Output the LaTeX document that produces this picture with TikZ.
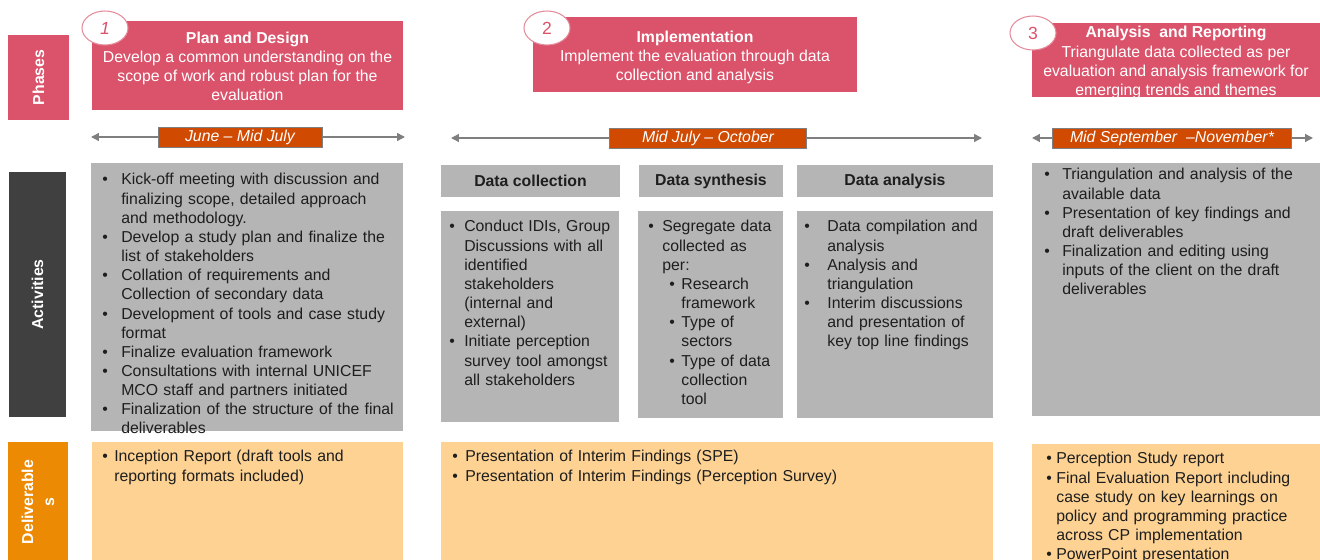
\documentclass[tikz,border=0pt]{standalone}
\usepackage{fontspec}
\setmainfont{Liberation Sans}
\usetikzlibrary{fit,shapes.geometric,arrows.meta}

\definecolor{phasered}{HTML}{DB536B}
\definecolor{ringred}{HTML}{E58C9C}
\definecolor{actdark}{HTML}{404040}
\definecolor{delorange}{HTML}{EC8A03}
\definecolor{dateorange}{HTML}{D04A02}
\definecolor{boxgray}{HTML}{B5B5B5}
\definecolor{delfill}{HTML}{FDD293}
\definecolor{linegray}{HTML}{7F7F7F}
\definecolor{inkgray}{HTML}{1E1E1E}

% bullet lines with a hanging indent
\newlength{\bhang}
\newcommand{\firstbul}{\leftskip=0pt\hangindent=\bhang\hangafter=1\noindent\makebox[\bhang][l]{\textbullet}\ignorespaces}
\newcommand{\bul}{\par\firstbul}
\newcommand{\subbul}[2]{\par\leftskip=#1\hangindent=#2\hangafter=1\noindent\makebox[#2][l]{\textbullet}\ignorespaces}

\begin{document}
\begin{tikzpicture}[
  x=0.02cm, y=-0.02cm,
  every node/.style={font=\fontsize{9}{10.9}\selectfont},
  rowbox/.style={fill=#1, inner sep=0pt},
  rowtext/.style={rotate=90, text=white, align=center, font=\fontsize{9}{12}\selectfont\bfseries},
  phase/.style={fill=phasered, inner sep=0pt},
  phasetext/.style={text=white, align=center, inner sep=0pt},
  ring/.style={ellipse, draw=ringred, line width=0.6pt, fill=white, inner sep=0pt,
    minimum width=0.92cm, minimum height=0.68cm, text=phasered, font=\fontsize{10}{12}\selectfont},
  datebox/.style={fill=dateorange, draw=linegray, line width=0.4pt, inner sep=0pt, text=white,
    minimum height=0.4cm, font=\fontsize{9}{10.9}\selectfont\itshape},
  tline/.style={draw=linegray, line width=0.8pt, -{Triangle[length=4.5pt,width=4.5pt]}},
  graybox/.style={fill=boxgray, inner sep=0pt},
  headtext/.style={inner sep=0pt, text=inkgray, font=\fontsize{9}{10.9}\selectfont\bfseries},
  delbox/.style={fill=delfill, inner sep=0pt},
  bullets/.style={anchor=base west, inner sep=0pt, align=left, text=inkgray, text width=#1}
]
\useasboundingbox (0,0) rectangle (1320,560);

% row labels
\node[rowbox=phasered, fit={(8,35) (69,120)}] (phasesbox) {};
\node[rowtext] (phaseslbl) at (phasesbox.center) {Phases};
\node[rowbox=actdark, fit={(9,172) (66,417)}] (actbox) {};
\node[rowtext] (actlbl) at (actbox.center) {Activities};
\node[rowbox=delorange, fit={(8,442) (68,570)}] (delbox) {};
\node[rowtext] (dellbl) at (38,502) {Deliverable\\s};

% phases
\node[phase, fit={(92,21) (403,110)}] (plan) {};
\node[phasetext] (plantxt) at ([yshift=-0.5pt]plan.center) {\textbf{Plan and Design}\\Develop a common understanding on the\\scope of work and robust plan for the\\evaluation};
\node[ring, font=\fontsize{10}{12}\selectfont\itshape] (num1) at (105,28) {1};
\node[phase, fit={(533,17) (857,92)}] (impl) {};
\node[phasetext] (impltxt) at ([yshift=-1.5pt]impl.center) {\textbf{Implementation}\\Implement the evaluation through data\\collection and analysis};
\node[ring] (num2) at (547,28) {2};
\node[phase, fit={(1032,23) (1320,97)}] (report) {};
\node[phasetext] (reporttxt) at ([yshift=-1.5pt]report.center) {\textbf{Analysis~ and Reporting}\\Triangulate data collected as per\\evaluation and analysis framework for\\emerging trends and themes};
\node[ring] (num3) at (1033,33) {3};

% time spans
\coordinate (t1a) at (91,137);
\coordinate (t1b) at (405,137);
\node[datebox, minimum width=3.28cm] (when1) at (240,137) {June -- Mid July};
\draw[tline] (when1) -- (t1a);
\draw[tline] (when1) -- (t1b);
\coordinate (t2a) at (451,138);
\coordinate (t2b) at (982,138);
\node[datebox, minimum width=3.94cm] (when2) at (708,138) {Mid July -- October};
\draw[tline] (when2) -- (t2a);
\draw[tline] (when2) -- (t2b);
\coordinate (t3a) at (1032,138);
\coordinate (t3b) at (1313,138);
\node[datebox, minimum width=4.78cm] (when3) at (1172,138) {Mid September~ --November*};
\draw[tline] (when3) -- (t3a);
\draw[tline] (when3) -- (t3b);

% activities
\node[graybox, fit={(91,163) (403,431)}] (plantasks) {};
\node[bullets=6cm] (plantasktxt) at (102,185) {\setlength{\bhang}{10.8pt}%
  \firstbul Kick-off meeting with discussion and\newline finalizing scope, detailed approach\newline and methodology.
  \bul Develop a study plan and finalize the\newline list of stakeholders
  \bul Collation of requirements and\newline Collection of secondary data
  \bul Development of tools and case study\newline format
  \bul Finalize evaluation framework
  \bul Consultations with internal UNICEF\newline MCO staff and partners initiated
  \bul Finalization of the structure of the final\newline deliverables\par};

\node[graybox, fit={(441,165) (620,197)}] (collhead) {};
\node[headtext] (colllbl) at (collhead.center) {Data collection};
\node[graybox, fit={(639,165) (783,197)}] (synhead) {};
\node[headtext] (synlbl) at (synhead.center) {Data synthesis};
\node[graybox, fit={(797,165) (993,197)}] (anahead) {};
\node[headtext] (analbl) at (anahead.center) {Data analysis};
\node[graybox, fit={(441,211) (619,422)}] (colltasks) {};
\node[graybox, fit={(638,211) (783,418)}] (syntasks) {};
\node[graybox, fit={(797,211) (993,418)}] (anatasks) {};
\node[bullets=3.4cm] (colltxt) at (449,232) {\setlength{\bhang}{8.5pt}%
  \firstbul Conduct IDIs, Group\newline Discussions with all\newline identified\newline stakeholders\newline (internal and\newline external)
  \bul Initiate perception\newline survey tool amongst\newline all stakeholders\par};
\node[bullets=2.7cm] (syntxt) at (648,232) {\setlength{\bhang}{8pt}%
  \firstbul Segregate data\newline collected as\newline per:
  \subbul{12pt}{6.8pt} Research\newline framework
  \subbul{12pt}{6.8pt} Type of\newline sectors
  \subbul{12pt}{6.8pt} Type of data\newline collection\newline tool\par};
\node[bullets=3.7cm] (anatxt) at (804,232) {\setlength{\bhang}{13.1pt}%
  \firstbul Data compilation and\newline analysis
  \bul Analysis and\newline triangulation
  \bul Interim discussions\newline and presentation of\newline key top line findings\par};

\node[graybox, fit={(1032,163) (1320,416)}] (reporttasks) {};
\node[bullets=5.4cm] (reporttasktxt) at (1044,180) {\setlength{\bhang}{10.2pt}%
  \firstbul Triangulation and analysis of the\newline available data
  \bul Presentation of key findings and\newline draft deliverables
  \bul Finalization and editing using\newline inputs of the client on the draft\newline deliverables\par};

% deliverables
\node[delbox, fit={(92,442) (403,570)}] (planout) {};
\node[bullets=5.5cm] (planouttxt) at (102,462) {\setlength{\bhang}{6.8pt}%
  \firstbul Inception Report (draft tools and\newline reporting formats included)\par};
\node[delbox, fit={(441,442) (993,570)}] (implout) {};
\node[bullets=8cm] (implouttxt) at (452,462) {\setlength{\bhang}{7.4pt}%
  \firstbul Presentation of Interim Findings (SPE)
  \bul Presentation of Interim Findings (Perception Survey)\par};
\node[delbox, fit={(1032,444) (1320,570)}] (reportout) {};
\node[bullets=5.2cm] (reportouttxt) at (1046,464) {\setlength{\bhang}{5.7pt}%
  \firstbul Perception Study report
  \bul Final Evaluation Report including\newline case study on key learnings on\newline policy and programming practice\newline across CP implementation
  \bul PowerPoint presentation\par};
\end{tikzpicture}
\end{document}
